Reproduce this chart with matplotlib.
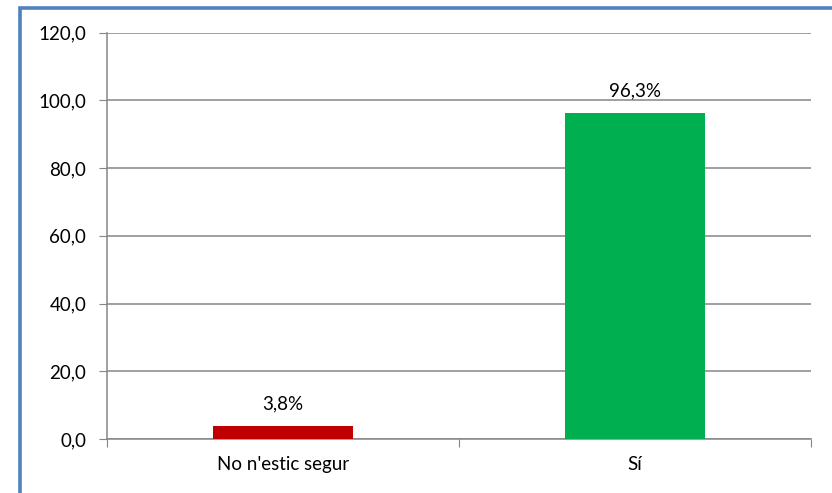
import matplotlib.pyplot as plt
from matplotlib.patches import Rectangle
from matplotlib.ticker import MultipleLocator, FuncFormatter

categories = ["No n'estic segur", "Sí"]
values = [3.8, 96.3]
labels = ["3,8%", "96,3%"]
colors = ["#C00000", "#00B050"]

plt.rcParams['font.family'] = ['Lato', 'DejaVu Sans']

fig = plt.figure(figsize=(8.32, 4.93), dpi=100)
W, H = 832, 493
ax = fig.add_axes([107 / W, 1 - 439 / H, (811 - 107) / W, (439 - 32.7) / H])

# blue frame around the chart (cut off at right and bottom)
fig.patches.append(Rectangle((20 / W, -0.1), 1.1, 1 - 7.5 / H + 0.1,
                             transform=fig.transFigure, fill=False,
                             edgecolor="#4F81BD", linewidth=2.6))

x = [0.5, 1.5]
bars = ax.bar(x, values, width=0.4, color=colors, zorder=3)
for xi, v, lab in zip(x, values, labels):
    ax.text(xi, v + 4.0, lab, ha="center", va="bottom", fontsize=13.5)

ax.set_xlim(0, 2)
ax.set_ylim(0, 120)
ax.yaxis.set_major_locator(MultipleLocator(20))
ax.yaxis.set_major_formatter(FuncFormatter(lambda v, p: f"{v:.1f}".replace(".", ",")))
ax.grid(axis="y", color="#868686", linewidth=1.1, zorder=0)

ax.set_xticks([0, 1, 2])
ax.set_xticklabels([])
ax.set_xticks(x, minor=True)
ax.set_xticklabels(categories, minor=True)
ax.tick_params(axis="x", which="minor", length=0, pad=12, labelsize=13.5)
ax.tick_params(axis="x", which="major", length=6, color="#868686")
ax.tick_params(axis="y", length=6, color="#868686", labelsize=13.5, pad=9)

for side in ["top", "right"]:
    ax.spines[side].set_visible(False)
for side in ["left", "bottom"]:
    ax.spines[side].set_color("#868686")
    ax.spines[side].set_linewidth(1.1)

fig.savefig("out.png", dpi=100)
